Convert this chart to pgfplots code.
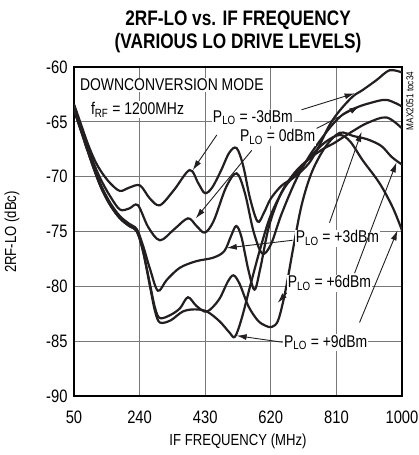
\documentclass[border=0pt]{standalone}
\usepackage{fontspec}
\setmainfont{Liberation Sans}[FakeStretch=0.82]
\usepackage{pgfplots}
\pgfplotsset{compat=1.18}
\usetikzlibrary{arrows.meta}
\definecolor{ink}{RGB}{35,31,32}
\definecolor{gridc}{RGB}{120,120,120}

\begin{document}
\begin{tikzpicture}[x=1pt,y=1pt]
\useasboundingbox (-74,-59) rectangle (344,396);
\begin{axis}[
  at={(0,0)}, anchor=south west,
  width=328pt, height=329pt, scale only axis,
  xmin=50, xmax=1000, ymin=-90, ymax=-60,
  xtick={50,240,430,620,810,1000},
  xticklabels={50,240,430,620,810,1000},
  ytick={-90,-85,-80,-75,-70,-65,-60},
  yticklabels={-90,-85,-80,-75,-70,-65,-60},
  major tick length=0pt,
  grid=major,
  grid style={gridc, line width=0.9pt},
  axis line style={black, line width=2.4pt},
  ticklabel style={font=\fontsize{18}{21}\selectfont},
  yticklabel style={xshift=-3pt},
  xticklabel style={yshift=-11pt},
  every axis plot post/.append style={ink, mark=none, line width=2.2pt, smooth, tension=0.55},
  clip=true,
]
% P_LO = -3dBm
\addplot coordinates {(50,-63.4)(70,-65.2)(90,-67.0)(110,-68.5)(130,-69.6)(155,-70.6)(183,-71.3)(210,-71.0)(241,-70.8)(270,-72.0)(299,-72.6)(340,-71.2)(385,-69.4)(410,-70.6)(429,-71.5)(450,-71.0)(475,-69.5)(500,-67.8)(521,-67.4)(540,-69.0)(560,-72.0)(582,-74.1)(600,-73.3)(620,-72.0)(652,-70.8)(690,-70.0)(730,-68.8)(760,-67.2)(790,-65.3)(819,-64.0)(857,-62.7)(886,-62.1)(926,-61.2)(964,-60.3)(1000,-60.5)};
% P_LO = 0dBm
\addplot coordinates {(50,-63.5)(70,-65.4)(90,-67.3)(110,-69.0)(130,-70.4)(155,-71.8)(183,-73.0)(210,-72.9)(235,-72.6)(265,-74.6)(299,-75.8)(340,-74.8)(380,-73.8)(405,-74.5)(429,-75.1)(455,-74.0)(490,-71.0)(521,-69.7)(545,-71.5)(570,-75.0)(595,-77.0)(620,-76.2)(650,-73.5)(690,-70.5)(730,-68.2)(770,-66.4)(800,-65.2)(830,-64.3)(868,-63.7)(906,-63.3)(955,-63.0)(1000,-63.6)};
% P_LO = +3dBm
\addplot coordinates {(50,-63.7)(70,-65.6)(90,-67.5)(110,-69.3)(130,-70.9)(155,-72.4)(183,-73.6)(210,-74.3)(232,-74.8)(250,-76.3)(270,-78.4)(293,-80.4)(319,-79.4)(357,-78.3)(405,-77.7)(452,-77.4)(485,-76.8)(505,-75.4)(520,-74.5)(535,-75.5)(555,-78.5)(573,-80.3)(590,-78.3)(615,-74.5)(650,-71.5)(690,-69.6)(730,-68.4)(770,-67.5)(800,-67.0)(830,-66.4)(860,-65.8)(900,-65.1)(955,-64.6)(1000,-65.6)};
% P_LO = +9dBm
\addplot coordinates {(50,-63.9)(70,-65.8)(90,-67.7)(110,-69.5)(130,-71.1)(155,-72.6)(183,-73.8)(210,-74.5)(232,-75.0)(250,-76.8)(270,-80.0)(285,-82.3)(299,-83.3)(330,-83.1)(365,-82.3)(400,-82.1)(435,-82.3)(472,-83.2)(500,-84.2)(516,-84.6)(535,-83.0)(560,-80.0)(590,-76.5)(620,-73.5)(660,-71.0)(700,-69.5)(740,-68.0)(780,-66.8)(820,-66.2)(850,-66.8)(886,-68.5)(935,-70.6)(973,-72.8)(1000,-74.9)};
% P_LO = +6dBm
\addplot coordinates {(50,-63.9)(70,-65.8)(90,-67.7)(110,-69.5)(130,-71.1)(155,-72.6)(183,-73.8)(210,-74.5)(232,-75.0)(250,-76.8)(270,-79.8)(285,-82.0)(299,-82.9)(330,-82.6)(357,-82.0)(380,-81.0)(405,-81.8)(435,-82.3)(470,-81.2)(495,-79.6)(512,-79.0)(530,-79.8)(555,-81.8)(582,-83.1)(605,-83.6)(623,-83.7)(640,-83.2)(655,-81.5)(668,-79.5)(685,-76.5)(710,-72.5)(740,-69.5)(780,-67.2)(820,-66.0)(860,-66.3)(900,-66.6)(940,-67.2)(970,-68.2)(1000,-68.9)};

\tikzset{lab/.style={fill=white, inner sep=1pt, font=\fontsize{17}{20}\selectfont},
         arr/.style={ink, line width=0.9pt, -{Latex[length=10pt,width=6pt]}}}
\node[lab, anchor=west] at (axis cs:64,-61.6) {DOWNCONVERSION MODE};
\node[lab, anchor=west] at (axis cs:96,-63.9) {f\textsubscript{RF} = 1200MHz};
\node[lab] at (axis cs:568,-64.6) {P\textsubscript{LO} = -3dBm};
\node[lab] at (axis cs:640,-66.4) {P\textsubscript{LO} = 0dBm};
\node[lab] at (axis cs:813,-75.6) {P\textsubscript{LO} = +3dBm};
\node[lab] at (axis cs:790,-79.7) {P\textsubscript{LO} = +6dBm};
\node[lab] at (axis cs:779,-85.1) {P\textsubscript{LO} = +9dBm};
\draw[arr] (axis cs:463.6,-66.2) -- (axis cs:394,-69.4);
\draw[arr] (axis cs:709,-63.9) -- (axis cs:862.7,-62.4);
\draw[arr] (axis cs:564.8,-67.6) -- (axis cs:402.8,-73.8);
\draw[arr] (axis cs:752.8,-65.6) -- (axis cs:877,-63.6);
\draw[arr] (axis cs:683,-75.8) -- (axis cs:492.5,-76.5);
\draw[arr] (axis cs:790,-74.2) -- (axis cs:883,-65.9);
\draw[arr] (axis cs:666,-80.6) -- (axis cs:640,-81.5);
\draw[arr] (axis cs:862.7,-78.8) -- (axis cs:984,-68.7);
\draw[arr] (axis cs:654,-85.1) -- (axis cs:521,-84.5);
\draw[arr] (axis cs:877,-83.3) -- (axis cs:987,-74.9);
\end{axis}
\node[font=\fontsize{21}{24}\selectfont\bfseries] at (164,376) {2RF-LO vs. IF FREQUENCY};
\node[font=\fontsize{21}{24}\selectfont\bfseries] at (164,352.5) {(VARIOUS LO DRIVE LEVELS)};
\node[font=\fontsize{16}{19}\selectfont] at (164,-45) {IF FREQUENCY (MHz)};
\node[rotate=90, font=\fontsize{16}{19}\selectfont] at (-62,164) {2RF-LO (dBc)};
\node[rotate=90, font=\fontsize{10}{12}\selectfont] at (336,295) {MAX2051 toc34};
\end{tikzpicture}
\end{document}
